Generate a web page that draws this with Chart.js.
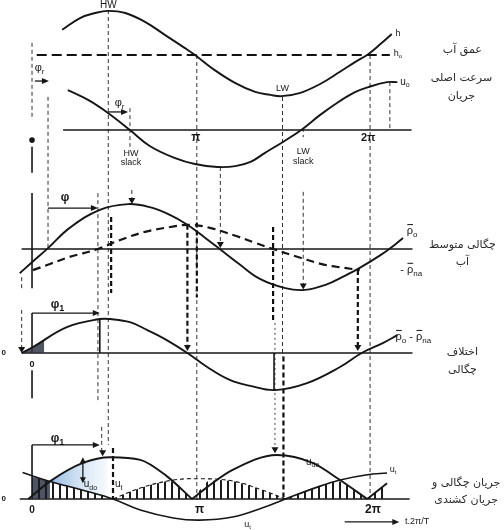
<!DOCTYPE html>
<html><head><meta charset="utf-8">
<script src="https://cdn.jsdelivr.net/npm/chart.js@4.4.1/dist/chart.umd.min.js"></script>
<style>html,body{margin:0;padding:0;background:#fff}#wrap{width:504px;height:530px;position:relative}</style>
</head><body><div id="wrap"><canvas id="c"></canvas></div>
<script>
// x values: phase angle in degrees (0 … 360 = 2π)
const tickLabels = ['0', 'π', '2π'];
const tickDeg = [0, 178, 362];

// water depth h (relative to h0)
const hX = [32,51,67,81,99,120,141,162,173,194,216,237,253,265,285,306,327,343,357,370,382];
const hY = [0.60,0.88,1.00,1.05,1.00,0.79,0.48,0.17,0,-0.36,-0.67,-0.88,-0.95,-0.98,-0.90,-0.69,-0.40,-0.17,0.02,0.26,0.50];
// main tidal velocity u0
const uX = [38,60,81,104,125,152,173,197,216,232,247,266,287,306,327,343,357,377,388];
const uY = [0.95,0.71,0.40,0,-0.38,-0.67,-0.81,-0.88,-0.86,-0.76,-0.55,-0.29,0.02,0.36,0.69,0.90,1.02,1.14,1.14];
// mean density rho0 and rho_na
const rho0X = [-13,0,17,40,72,102,125,147,165,184,198,221,242,269,290,311,332,348,370,386,394];
const rho0Y = [-0.55,-0.30,0.02,0.48,0.89,1.02,0.95,0.77,0.55,0.25,0.02,-0.36,-0.68,-0.89,-0.93,-0.82,-0.61,-0.43,-0.14,0.11,0.25];
const rhoNaX = [1,19,40,70,93,120,147,168,189,216,237,256,285,311,332,348];
const rhoNaY = [-0.48,-0.34,-0.18,0,0.20,0.39,0.50,0.55,0.48,0.30,0.14,0,-0.20,-0.36,-0.43,-0.48];
// density difference rho0 - rho_na
const dRhoX = [-11,1,37,72,83,104,122,143,165,186,210,232,258,292,327,350,373,388];
const dRhoY = [0,0.17,0.74,0.97,0.97,0.88,0.66,0.37,0,-0.40,-0.77,-0.94,-1.06,-0.86,-0.40,0,0.29,0.51];
const dRhoDarkX = [-11,1,13];
const dRhoDarkY = [0,0.17,0.36];
// tidal current u_t, its mirrored part, density current u_do
const utX = [-10,19,54,86,115,150,178,213,245,269,303,327,356,377];
const utY = [0.60,0.40,0.20,0,-0.25,-0.43,-0.48,-0.41,-0.20,0,0.27,0.43,0.55,0.59];
const utAbsX = [86,115,150,178,213,245,269];
const utAbsY = [0,0.25,0.43,0.46,0.41,0.20,0];
const udoX = [-4,19,54,83,115,143,170,170,170,186,213,260,298,327,356,356,356,377];
const udoY = [0,0.40,0.82,0.95,0.89,0.52,0,null,0,0.27,0.66,1.0,0.82,0.43,0,null,0,0.36];
// hatched resulting current
const hatchX = [0,19,36,54,70,86,102,115,127,141,147,157,170,178,186,199,213,229,245,258,269,285,303,316,324,332,344,356,366,377];
const hatchY = [0.50,0.40,0.30,0.20,0.10,0,0.15,0.25,0.33,0.40,0.42,0.25,0,0.20,0.40,0.43,0.41,0.32,0.20,0.10,0,0.15,0.27,0.36,0.42,0.35,0.20,0,0.18,0.36];
const darkX = [0,10,19];
const darkY = [0.50,0.45,0.40];
const blueX = [19,36,54,70,80];
const blueY = [0.40,0.63,0.82,0.92,0.95];

// ---------- layout (panel baselines and unit sizes in px) ----------
const W = 504, HT = 530;
const panels = { yH:[55,42], yU:[130,42], yR:[249,44], yD:[353,35], yC:[499,44] };
const LATIN = "'Liberation Sans', Arial, sans-serif";
const FA = "'DejaVu Sans', sans-serif";
const INK = '#161616';

const pts = (xs, ys) => xs.map((x, i) => ({ x, y: ys[i] }));
function line(xs, ys, axis, w) {
  return { data: pts(xs, ys), yAxisID: axis, showLine: true, pointRadius: 0,
    borderColor: INK, borderWidth: w || 1.9, cubicInterpolationMode: 'default', tension: 0.4, fill: false, order: 0 };
}

const canvas = document.getElementById('c');
const pc = document.createElement('canvas'); pc.width = 7; pc.height = 8;
const pctx = pc.getContext('2d'); pctx.fillStyle = '#1c1c1c'; pctx.fillRect(3, 0, 2, 8);
const hatchPattern = canvas.getContext('2d').createPattern(pc, 'repeat');

function blueFill(context) {
  const chart = context.chart;
  if (!chart.chartArea) return 'rgba(150,190,230,0.5)';
  const X = chart.scales.x;
  const g = chart.ctx.createLinearGradient(X.getPixelForValue(19), 0, X.getPixelForValue(80), 0);
  g.addColorStop(0, 'rgba(110,160,215,0.75)');
  g.addColorStop(1, 'rgba(215,232,248,0.25)');
  return g;
}

const datasets = [
  line(hX, hY, 'yH'),
  line(uX, uY, 'yU'),
  line(rho0X, rho0Y, 'yR'),
  Object.assign(line(rhoNaX, rhoNaY, 'yR', 2.2), { borderDash: [8, 5] }),
  line(dRhoX, dRhoY, 'yD'),
  line(utX, utY, 'yC', 1.6),
  Object.assign(line(utAbsX, utAbsY, 'yC', 1.1), { borderDash: [4, 3] }),
  Object.assign(line(udoX, udoY, 'yC'), { cubicInterpolationMode: 'monotone' }),
  Object.assign(line(hatchX, hatchY, 'yC', 0), { tension: 0, fill: 'origin', backgroundColor: hatchPattern, borderColor: 'rgba(0,0,0,0)', order: 3 }),
  Object.assign(line(darkX, darkY, 'yC', 0), { fill: 'origin', backgroundColor: 'rgba(45,55,75,0.85)', borderColor: 'rgba(0,0,0,0)', order: 4 }),
  Object.assign(line(blueX, blueY, 'yC', 0), { fill: 5, backgroundColor: blueFill, borderColor: 'rgba(0,0,0,0)', order: 4 }),
  Object.assign(line(dRhoDarkX, dRhoDarkY, 'yD', 0), { fill: 'origin', backgroundColor: 'rgba(50,55,70,0.85)', borderColor: 'rgba(0,0,0,0)', order: 4 })
];

// ---------- annotations (positions in each panel's own units) ----------
const guides = [
  {x:81, f:['yH',1.07], t:['yC',1.23], s:'thin'},
  {x:84, f:['yR',0.73], t:['yR',-1.0], s:'heavy'},
  {x:86, f:['yC',1.16], t:['yC',0], s:'heavy'},
  {x:104, f:['yU',0.52], t:['yU',-0.4], s:'thin'},
  {x:175, f:['yH',0], t:['yC',-0.05], s:'thin'},
  {x:175, f:['yR',0.6], t:['yR',-1.1], s:'heavy'},
  {x:266, f:['yH',-1.0], t:['yD',-0.1], s:'thin'},
  {x:267, f:['yD',-0.1], t:['yC',0], s:'heavy'},
  {x:288, f:['yU',0.05], t:['yU',-0.17], s:'thin'},
  {x:288, f:['yR',1.3], t:['yR',-0.9], s:'thin'},
  {x:359, f:['yH',0], t:['yC',0], s:'thin'},
  {x:17, f:['yU',0.79], t:['yR',-0.02], s:'thin'},
  {x:0, f:['yH',0.29], t:['yU',0.24], s:'thin'},
  {x:0, f:['yU',-0.40], t:['yU',-1.02], s:'solid'},
  {x:0, f:['yR',1.27], t:['yR',-0.89], s:'solid'},
  {x:0, f:['yD',1.14], t:['yD',0], s:'solid'},
  {x:0, f:['yD',-0.49], t:['yD',-1.29], s:'solid'},
  {x:0, f:['yC',1.23], t:['yC',0], s:'solid'},
  {x:-11, f:['yR',-0.64], t:['yR',-0.93], s:'thin'},
  {x:-11, f:['yD',1.23], t:['yD',0.17], s:'thin'},
  {x:70, f:['yR',1.27], t:['yD',-1.43], s:'thin'},
  {x:72, f:['yD',0.97], t:['yD',0], s:'solid'},
  {x:74, f:['yC',1.64], t:['yC',1.0], s:'thin'},
  {x:106, f:['yR',1.34], t:['yR',1.08], s:'thin'},
  {x:165, f:['yR',0.55], t:['yD',0.14], s:'heavy'},
  {x:200, f:['yU',-0.88], t:['yR',0.1], s:'thin'},
  {x:256, f:['yR',0.5], t:['yD',0.86], s:'heavy'},
  {x:258, f:['yD',0.86], t:['yC',1.1], s:'dot'},
  {x:346, f:['yR',-0.48], t:['yD',0.14], s:'heavy'},
  {x:380, f:['yU',1.14], t:['yU',0], s:'thin'},
  {x:257, f:['yD',0], t:['yD',-1.06], s:'solid'}
];
const rules = [
  {a:'yH', v:0, x0:5, x1:380, s:'hdash'},
  {a:'yU', v:0, x0:33, x1:403, s:'axis'},
  {a:'yR', v:0, x0:-11, x1:404, s:'axis'},
  {a:'yD', v:0, x0:-11, x1:404, s:'axis'},
  {a:'yC', v:0, x0:-13, x1:401, s:'axis'}
];
const arrows = [
  {x0:81, x1:102, a:'yU', v:0.43},
  {x0:17, x1:70, a:'yR', v:0.93},
  {x0:0, x1:72, a:'yD', v:1.14},
  {x0:0, x1:72, a:'yC', v:1.23},
  {x0:332, x1:390, a:'yC', v:-0.52},
  {x0:3, x1:18, a:'yH', v:-0.62}
];
const vArrows = [{x:54, a:'yC', v0:0.95, v1:0.36}];
const tris = [
  {x:106,a:'yR',v:1.02},{x:200,a:'yR',v:0.02},{x:288,a:'yR',v:-0.92},
  {x:-11,a:'yD',v:0},{x:165,a:'yD',v:0.06},{x:346,a:'yD',v:0.06},
  {x:75,a:'yC',v:0.97},{x:258,a:'yC',v:1.04}
];
const dots = [{x:0,a:'yU',v:-0.24}];

const labels = [
  {p:[['HW']], x:81, a:'yH', v:1.19, s:10},
  {p:[['LW']], x:266, a:'yH', v:-0.79, s:9},
  {p:[['HW']], x:105, a:'yU', v:-0.55, s:9},
  {p:[['slack']], x:105, a:'yU', v:-0.77, s:9},
  {p:[['LW']], x:288, a:'yU', v:-0.52, s:9},
  {p:[['slack']], x:288, a:'yU', v:-0.74, s:9},
  {p:[[tickLabels[1]]], x:174, a:'yU', v:-0.19, s:12, b:1},
  {p:[[tickLabels[2]]], x:357, a:'yU', v:-0.19, s:11, b:1},
  {p:[['h']], x:386, a:'yH', v:0.52, s:9, al:'left'},
  {p:[['h'],['o','s']], x:384, a:'yH', v:0.03, s:9, al:'left'},
  {p:[['u'],['o','s']], x:391, a:'yU', v:1.14, s:10, al:'left'},
  {p:[['φ'],['r','s']], x:93, a:'yU', v:0.64, s:11},
  {p:[['φ'],['r','s']], x:8, a:'yH', v:-0.31, s:11},
  {p:[['φ']], x:35, a:'yR', v:1.16, s:12, b:1},
  {p:[['ρ','b'],['o','s']], x:398, a:'yR', v:0.40, s:11, al:'left'},
  {p:[['- '],['ρ','b'],['na','s']], x:391, a:'yR', v:-0.48, s:11, al:'left'},
  {p:[['φ'],['1','s']], x:27, a:'yD', v:1.37, s:12, b:1},
  {p:[['ρ','b'],['o','s'],[' - '],['ρ','b'],['na','s']], x:386, a:'yD', v:0.45, s:11, al:'left'},
  {p:[['0']], x:0, a:'yD', v:-0.33, s:9, b:1},
  {p:[['0']], x:-30, a:'yD', v:0, s:8, b:1},
  {p:[['φ'],['1','s']], x:27, a:'yC', v:1.36, s:12, b:1},
  {p:[['u'],['do','s']], x:62, a:'yC', v:0.33, s:10},
  {p:[['u'],['t','s']], x:92, a:'yC', v:0.33, s:10},
  {p:[['u'],['do','s']], x:298, a:'yC', v:0.84, s:10},
  {p:[['u'],['t','s']], x:380, a:'yC', v:0.66, s:9, al:'left'},
  {p:[['u'],['t','s']], x:229, a:'yC', v:-0.59, s:9},
  {p:[['t.2π/T']], x:396, a:'yC', v:-0.52, s:9, al:'left'},
  {p:[['0']], x:-30, a:'yC', v:0, s:8, b:1}
].concat(tickLabels.map((t, i) => ({p:[[t]], x:tickDeg[i], a:'yC', v:-0.25, s: i ? 12 : 10, b:1})));

const faLabels = [
  {t:'عمق آب', x:457, a:'yH', v:0.12},
  {t:'سرعت اصلی', x:456, a:'yU', v:1.24},
  {t:'جریان', x:456, a:'yU', v:0.81},
  {t:'چگالی متوسط', x:457, a:'yR', v:0.09},
  {t:'آب', x:457, a:'yR', v:-0.30},
  {t:'اختلاف', x:457, a:'yD', v:0.03},
  {t:'چگالی', x:457, a:'yD', v:-0.49},
  {t:'جریان چگالی و', x:461, a:'yC', v:0.36},
  {t:'جریان کشندی', x:461, a:'yC', v:-0.02}
];

function drawRich(ctx, x, y, parts, size, align, bold) {
  const fN = (bold ? 'bold ' : '') + size + 'px ' + LATIN;
  const fS = (bold ? 'bold ' : '') + Math.round(size * 0.72) + 'px ' + LATIN;
  let w = 0;
  const segs = parts.map(([t, k]) => { ctx.font = k === 's' ? fS : fN; const m = ctx.measureText(t).width; w += m; return {t, k, m}; });
  let cx = align === 'left' ? x : x - w / 2;
  ctx.textBaseline = 'middle'; ctx.textAlign = 'left';
  for (const s of segs) {
    ctx.font = s.k === 's' ? fS : fN;
    ctx.fillText(s.t, cx, s.k === 's' ? y + size * 0.32 : y);
    if (s.k === 'b') {
      ctx.beginPath(); ctx.lineWidth = 1; ctx.setLineDash([]);
      ctx.moveTo(cx + 0.5, y - size * 0.62); ctx.lineTo(cx + s.m, y - size * 0.62); ctx.stroke();
    }
    cx += s.m;
  }
}

const styleMap = {
  thin: {w:1, d:[4,3], c:'#333'},
  heavy: {w:2.2, d:[5,3], c:'#111'},
  solid: {w:1.6, d:[], c:INK},
  dot: {w:1, d:[2,3], c:'#444'},
  hdash: {w:2, d:[10,5], c:'#111'},
  axis: {w:1.6, d:[], c:INK}
};

const annot = {
  id: 'annot',
  beforeDatasetsDraw(chart) {
    const ctx = chart.ctx, X = chart.scales.x;
    const Y = (a, v) => chart.scales[a].getPixelForValue(v);
    ctx.save();
    for (const g of guides) {
      const st = styleMap[g.s];
      ctx.beginPath(); ctx.lineWidth = st.w; ctx.strokeStyle = st.c; ctx.setLineDash(st.d);
      const xp = X.getPixelForValue(g.x);
      ctx.moveTo(xp, Y(g.f[0], g.f[1])); ctx.lineTo(xp, Y(g.t[0], g.t[1])); ctx.stroke();
    }
    for (const r of rules) {
      const st = styleMap[r.s];
      ctx.beginPath(); ctx.lineWidth = st.w; ctx.strokeStyle = st.c; ctx.setLineDash(st.d);
      const yp = Y(r.a, r.v);
      ctx.moveTo(X.getPixelForValue(r.x0), yp); ctx.lineTo(X.getPixelForValue(r.x1), yp); ctx.stroke();
    }
    ctx.restore();
  },
  afterDatasetsDraw(chart) {
    const ctx = chart.ctx, X = chart.scales.x;
    const Y = (a, v) => chart.scales[a].getPixelForValue(v);
    ctx.save();
    ctx.setLineDash([]); ctx.fillStyle = INK; ctx.strokeStyle = INK;
    for (const a of arrows) {
      const x0 = X.getPixelForValue(a.x0), x1 = X.getPixelForValue(a.x1), y = Y(a.a, a.v);
      ctx.beginPath(); ctx.lineWidth = 1.3; ctx.moveTo(x0, y); ctx.lineTo(x1 - 5, y); ctx.stroke();
      ctx.beginPath(); ctx.moveTo(x1, y); ctx.lineTo(x1 - 7, y - 3); ctx.lineTo(x1 - 7, y + 3); ctx.closePath(); ctx.fill();
    }
    for (const a of vArrows) {
      const x = X.getPixelForValue(a.x), y0 = Y(a.a, a.v0), y1 = Y(a.a, a.v1);
      ctx.beginPath(); ctx.lineWidth = 1.3; ctx.moveTo(x, y0 + 4); ctx.lineTo(x, y1 - 4); ctx.stroke();
      ctx.beginPath(); ctx.moveTo(x, y0); ctx.lineTo(x - 3, y0 + 6); ctx.lineTo(x + 3, y0 + 6); ctx.closePath(); ctx.fill();
      ctx.beginPath(); ctx.moveTo(x, y1); ctx.lineTo(x - 3, y1 - 6); ctx.lineTo(x + 3, y1 - 6); ctx.closePath(); ctx.fill();
    }
    for (const t of tris) {
      const x = X.getPixelForValue(t.x), y = Y(t.a, t.v);
      ctx.beginPath(); ctx.moveTo(x, y); ctx.lineTo(x - 3.5, y - 6); ctx.lineTo(x + 3.5, y - 6); ctx.closePath(); ctx.fill();
    }
    for (const d of dots) {
      ctx.beginPath(); ctx.arc(X.getPixelForValue(d.x), Y(d.a, d.v), 2.8, 0, Math.PI * 2); ctx.fill();
    }
    for (const l of labels) {
      drawRich(ctx, X.getPixelForValue(l.x), Y(l.a, l.v), l.p, l.s, l.al || 'center', l.b);
    }
    ctx.fillStyle = '#2a2a2a';
    ctx.font = '11px ' + FA; ctx.textAlign = 'center'; ctx.textBaseline = 'middle'; ctx.direction = 'rtl';
    for (const l of faLabels) ctx.fillText(l.t, X.getPixelForValue(l.x), Y(l.a, l.v));
    ctx.restore();
  }
};

const scales = { x: { type: 'linear', display: false, min: -34, max: 501.2 } };
for (const [id, [base, unit]] of Object.entries(panels)) {
  scales[id] = { type: 'linear', display: false, min: (base - HT) / unit, max: base / unit };
}

new Chart(canvas, {
  type: 'scatter',
  data: { datasets },
  options: {
    responsive: true, maintainAspectRatio: false, animation: false, events: [],
    layout: { padding: 0 },
    plugins: { legend: { display: false }, tooltip: { enabled: false } },
    scales
  },
  plugins: [annot]
});
</script></body></html>
